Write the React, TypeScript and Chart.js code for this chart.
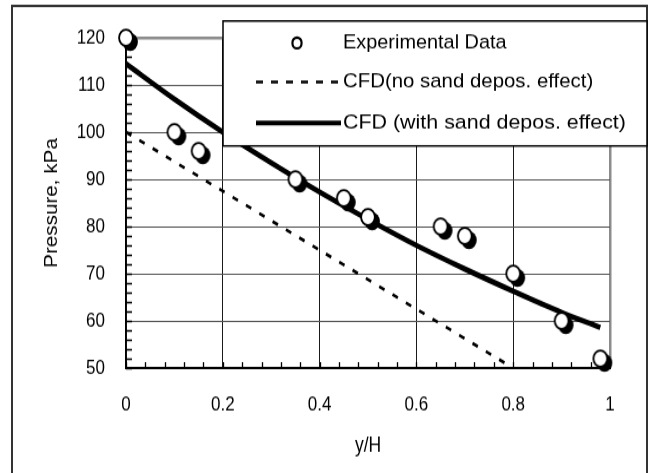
import { useEffect, useRef } from "react";
import { Chart, registerables } from "chart.js";
Chart.register(...registerables);

// ---- data ----
const expX = [0, 0.1, 0.15, 0.35, 0.45, 0.5, 0.65, 0.7, 0.8, 0.9, 0.98];
const expY = [120, 100, 96, 90, 86, 82, 80, 78, 70, 60, 52];
const noSandX = [0, 0.8];
const noSandY = [100, 50];
const withSandX = [0, 0.1, 0.2, 0.3, 0.4, 0.5, 0.6, 0.7, 0.8, 0.9, 0.98];
const withSandY = [114.5, 107, 100, 93.5, 87.3, 81.5, 76, 71, 66.3, 61.8, 58.6];
const xTicks = [0, 0.2, 0.4, 0.6, 0.8, 1];
const yTicks = [50, 60, 70, 80, 90, 100, 110, 120];
const seriesLabels = [
  "Experimental Data",
  "CFD(no sand depos. effect)",
  "CFD (with sand depos. effect)",
];
const xTitle = "y/H";
const yTitle = "Pressure, kPa";

const W = 652;
const H = 401;
const SCALE_Y = 473 / H;
const FONT = "'Liberation Sans', Arial, sans-serif";

function makeMarker(): HTMLCanvasElement {
  const c = document.createElement("canvas");
  c.width = 32;
  c.height = 32;
  const g = c.getContext("2d")!;
  g.fillStyle = "#000";
  g.beginPath();
  g.arc(16 + 4.2, 16 + 3.6, 7.7, 0, Math.PI * 2);
  g.fill();
  g.fillStyle = "#fff";
  g.beginPath();
  g.arc(16, 16, 6.9, 0, Math.PI * 2);
  g.fill();
  g.lineWidth = 1.9;
  g.strokeStyle = "#000";
  g.stroke();
  return c;
}

const decor = {
  id: "decor",
  beforeDraw(chart: any) {
    const ctx = chart.ctx;
    ctx.save();
    ctx.fillStyle = "#fff";
    ctx.fillRect(0, 0, W, H);
    ctx.strokeStyle = "#333";
    ctx.lineWidth = 2;
    ctx.beginPath();
    ctx.moveTo(12, H + 10);
    ctx.lineTo(12, 5);
    ctx.lineTo(647, 5);
    ctx.lineTo(647, H + 10);
    ctx.stroke();
    ctx.restore();
  },
  beforeDatasetsDraw(chart: any) {
    const ctx = chart.ctx;
    const xs = chart.scales.x;
    const ys = chart.scales.y;
    const a = chart.chartArea;
    ctx.save();
    ctx.strokeStyle = "#000";
    ctx.lineWidth = 1.3;
    ctx.beginPath();
    for (let i = 0; i <= 35; i++) {
      const v = 50 + i * 2;
      const p = Math.round(ys.getPixelForValue(v)) + 0.5;
      ctx.moveTo(a.left, p);
      ctx.lineTo(a.left + 6, p);
    }
    for (let i = 0; i <= 25; i++) {
      const v = i * 0.04;
      const p = Math.round(xs.getPixelForValue(v)) + 0.5;
      ctx.moveTo(p, a.bottom);
      ctx.lineTo(p, a.bottom - 5);
    }
    ctx.stroke();
    ctx.restore();
  },
  afterDatasetsDraw(chart: any) {
    const ctx = chart.ctx;
    ctx.save();
    // legend box
    const bx = 223, by = 17.8, bw = 647 - 223, bh = 123.7 - 17.8;
    ctx.fillStyle = "#fff";
    ctx.fillRect(bx, by, bw, bh);
    ctx.strokeStyle = "#000";
    ctx.lineWidth = 1.5;
    ctx.strokeRect(bx, by, bw, bh);
    const rows = [36.4, 69.5, 104.2];
    // marker
    ctx.beginPath();
    ctx.arc(297, rows[0], 4.6, 0, Math.PI * 2);
    ctx.fillStyle = "#fff";
    ctx.fill();
    ctx.lineWidth = 2.2;
    ctx.strokeStyle = "#000";
    ctx.stroke();
    // dashed
    ctx.beginPath();
    ctx.setLineDash([7, 8]);
    ctx.lineWidth = 2.4;
    ctx.moveTo(256, rows[1]);
    ctx.lineTo(341, rows[1]);
    ctx.stroke();
    ctx.setLineDash([]);
    // solid
    ctx.beginPath();
    ctx.lineWidth = 4;
    ctx.moveTo(256, rows[2]);
    ctx.lineTo(341, rows[2]);
    ctx.stroke();
    ctx.fillStyle = "#000";
    ctx.font = `17px ${FONT}`;
    ctx.textBaseline = "middle";
    ctx.textAlign = "left";
    const stretch = [1.17, 1.2, 1.26];
    seriesLabels.forEach((t, i) => {
      ctx.save();
      ctx.translate(343, rows[i]);
      ctx.scale(stretch[i], 1);
      ctx.fillText(t, 0, 0);
      ctx.restore();
    });
    ctx.restore();
  },
};

export default function App() {
  const ref = useRef<HTMLCanvasElement | null>(null);
  useEffect(() => {
    if (!ref.current) return;
    const marker = makeMarker();
    const chart = new Chart(ref.current, {
      type: "scatter",
      data: {
        datasets: [
          {
            label: seriesLabels[0],
            data: expX.map((x, i) => ({ x, y: expY[i] })),
            pointStyle: marker as any,
            pointRadius: 8,
            showLine: false,
            clip: false as any,
          },
          {
            label: seriesLabels[1],
            data: noSandX.map((x, i) => ({ x, y: noSandY[i] })),
            showLine: true,
            borderColor: "#000",
            borderWidth: 2.6,
            borderDash: [6, 9],
            pointRadius: 0,
          },
          {
            label: seriesLabels[2],
            data: withSandX.map((x, i) => ({ x, y: withSandY[i] })),
            showLine: true,
            borderColor: "#000",
            borderWidth: 4.6,
            cubicInterpolationMode: "monotone",
            pointRadius: 0,
          },
        ],
      },
      options: {
        responsive: false,
        animation: false,
        devicePixelRatio: 1,
        layout: { padding: { left: 0, top: 32, right: 42, bottom: 0 } },
        plugins: { legend: { display: false }, tooltip: { enabled: false } },
        scales: {
          x: {
            type: "linear",
            min: 0,
            max: 1,
            afterBuildTicks: (s: any) => {
              s.ticks = xTicks.map((v) => ({ value: v }));
            },
            afterFit: (s: any) => {
              s.height = H - 312;
            },
            ticks: {
              color: "#000",
              font: { family: FONT, size: 17 },
              padding: 21,
              maxRotation: 0,
              callback: (v: any) => String(v),
            },
            grid: {
              drawTicks: false,
              color: (c: any) => (c.tick && c.tick.value === 1 ? "#8c8c8c" : "#1a1a1a"),
              lineWidth: (c: any) => (c.tick && c.tick.value === 1 ? 2.5 : 1),
            },
            border: { color: "#000", width: 2 },
            title: {
              display: true,
              text: xTitle,
              color: "#000",
              font: { family: FONT, size: 17.5 },
              padding: { top: 0, bottom: 12 },
            },
          },
          y: {
            type: "linear",
            min: 50,
            max: 120,
            afterBuildTicks: (s: any) => {
              s.ticks = yTicks.map((v) => ({ value: v }));
            },
            afterFit: (s: any) => {
              s.width = 126;
            },
            ticks: {
              color: "#000",
              font: { family: FONT, size: 17 },
              padding: 21,
              callback: (v: any) => String(v),
            },
            grid: {
              drawTicks: false,
              color: (c: any) => (c.tick && c.tick.value === 120 ? "#8c8c8c" : "#555"),
              lineWidth: (c: any) => (c.tick && c.tick.value === 120 ? 2.5 : 1),
            },
            border: { color: "#000", width: 1.5 },
            title: {
              display: true,
              text: yTitle,
              color: "#000",
              font: { family: FONT, size: 17.5 },
              padding: { top: 42, bottom: 0 },
            },
          },
        },
      },
      plugins: [decor],
    });
    return () => chart.destroy();
  }, []);
  return (
    <div
      style={{
        position: "absolute",
        left: 0,
        top: 0,
        width: W,
        height: H,
        transform: `scaleY(${SCALE_Y})`,
        transformOrigin: "0 0",
      }}
    >
      <canvas ref={ref} width={W} height={H} style={{ display: "block" }} />
    </div>
  );
}
